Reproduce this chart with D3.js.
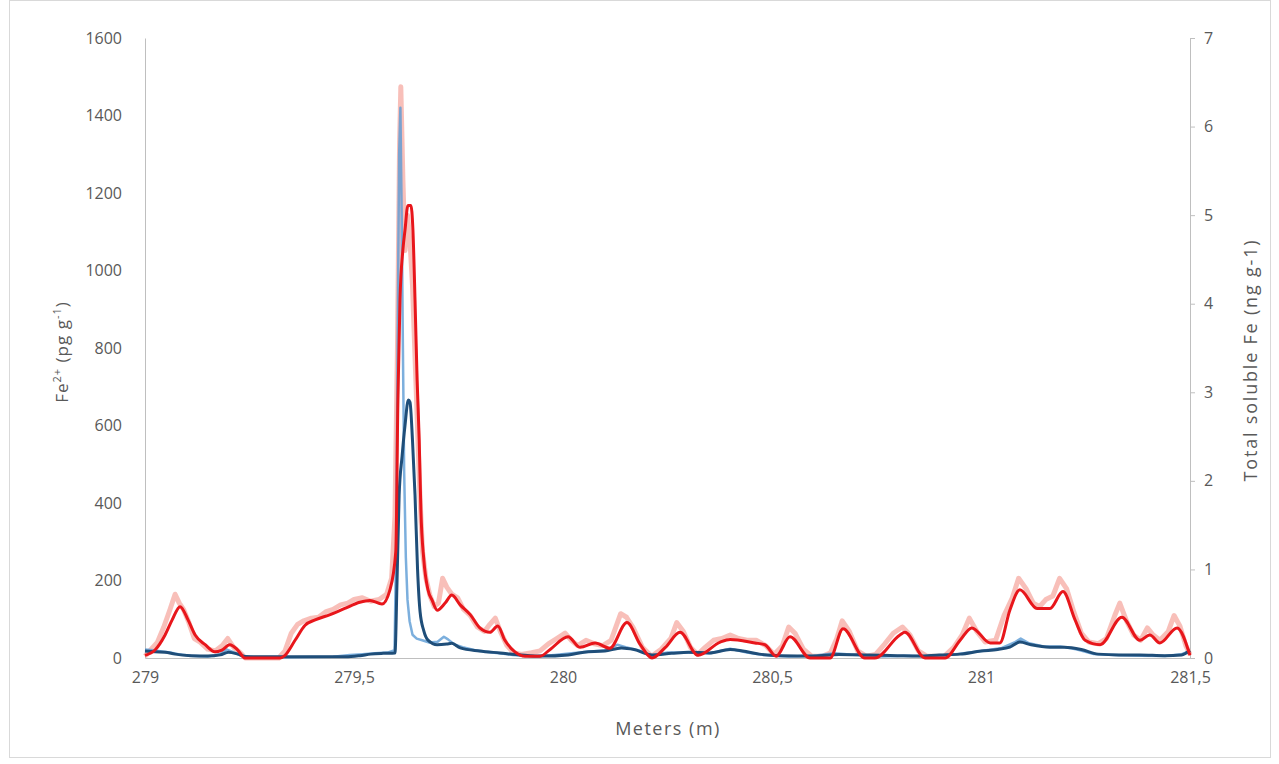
<!DOCTYPE html>
<html>
<head>
<meta charset="utf-8">
<script src="https://cdn.jsdelivr.net/npm/d3@7"></script>
<style>
  html, body { margin: 0; padding: 0; background: #fff; }
  svg { display: block; }
  .tick text, .axis-title { font-family: "Open Sans", "Noto Sans", sans-serif; fill: #595959; }
</style>
</head>
<body>
<svg id="chart" width="1279" height="764"></svg>
<script>
// Depth (m) and total soluble Fe (ng g-1), smoothed record
const feTotDepth = [279.000,279.024,279.048,279.065,279.084,279.103,279.120,279.144,279.167,279.184,279.203,279.222,279.239,279.323,279.335,279.359,279.383,279.407,279.443,279.478,279.514,279.538,279.567,279.586,279.600,279.605,279.610,279.617,279.622,279.629,279.636,279.641,279.646,279.651,279.656,279.660,279.667,279.677,279.687,279.699,279.718,279.734,279.754,279.778,279.801,279.825,279.844,279.861,279.885,279.909,279.945,279.970,280.012,280.041,280.077,280.112,280.153,280.185,280.213,280.245,280.280,280.323,280.376,280.400,280.459,280.483,280.510,280.543,280.591,280.639,280.670,280.722,280.746,280.806,280.818,280.866,280.914,280.950,280.978,281.022,281.045,281.069,281.093,281.134,281.165,281.196,281.225,281.249,281.285,281.337,281.380,281.404,281.428,281.469,281.500];
const feTotSmooth = [0.03,0.09,0.26,0.43,0.58,0.43,0.26,0.15,0.07,0.09,0.15,0.09,0.00,0.00,0.03,0.20,0.37,0.43,0.49,0.56,0.63,0.65,0.61,0.77,1.20,2.91,4.04,4.61,4.83,5.11,5.11,4.83,4.04,3.14,2.46,1.67,1.11,0.77,0.65,0.54,0.62,0.71,0.60,0.49,0.34,0.29,0.36,0.20,0.07,0.02,0.02,0.10,0.24,0.12,0.17,0.11,0.40,0.15,0.00,0.12,0.29,0.03,0.18,0.21,0.17,0.15,0.02,0.24,0.00,0.00,0.33,0.00,0.00,0.26,0.29,0.00,0.00,0.20,0.34,0.17,0.17,0.54,0.77,0.56,0.56,0.75,0.43,0.20,0.15,0.46,0.20,0.26,0.17,0.34,0.03];

// Depth (m) and total soluble Fe (ng g-1), raw record
const feTotRawDepth = [279.000,279.015,279.030,279.045,279.060,279.072,279.082,279.092,279.105,279.118,279.132,279.150,279.168,279.185,279.198,279.212,279.228,279.240,279.320,279.335,279.350,279.365,279.380,279.398,279.415,279.432,279.450,279.468,279.485,279.500,279.520,279.540,279.560,279.578,279.590,279.598,279.604,279.609,279.612,279.617,279.622,279.628,279.634,279.640,279.646,279.652,279.658,279.664,279.672,279.682,279.692,279.702,279.712,279.722,279.734,279.748,279.762,279.778,279.795,279.812,279.825,279.838,279.850,279.866,279.882,279.900,279.925,279.945,279.965,279.985,280.005,280.020,280.035,280.055,280.075,280.095,280.115,280.138,280.152,280.168,280.190,280.212,280.235,280.258,280.272,280.288,280.305,280.322,280.340,280.360,280.380,280.400,280.420,280.440,280.462,280.485,280.505,280.525,280.540,280.555,280.575,280.595,280.620,280.640,280.655,280.668,280.685,280.705,280.725,280.748,280.770,280.790,280.812,280.830,280.850,280.870,280.912,280.935,280.955,280.972,280.990,281.010,281.035,281.055,281.075,281.090,281.108,281.125,281.140,281.155,281.172,281.188,281.205,281.222,281.240,281.258,281.280,281.300,281.320,281.332,281.348,281.365,281.382,281.398,281.412,281.428,281.448,281.462,281.476,281.490,281.500];
const feTotRaw = [0.02,0.10,0.18,0.35,0.55,0.72,0.62,0.55,0.40,0.22,0.18,0.10,0.08,0.14,0.22,0.12,0.06,0.00,0.00,0.08,0.28,0.38,0.42,0.45,0.46,0.52,0.55,0.60,0.62,0.66,0.68,0.64,0.66,0.72,0.90,1.60,3.50,5.80,6.45,5.40,4.60,5.00,4.70,4.20,3.40,2.60,1.80,1.20,0.90,0.70,0.58,0.62,0.90,0.80,0.72,0.68,0.55,0.48,0.35,0.30,0.38,0.45,0.30,0.14,0.06,0.04,0.06,0.08,0.16,0.22,0.28,0.20,0.14,0.20,0.16,0.14,0.20,0.50,0.46,0.34,0.12,0.02,0.10,0.22,0.40,0.30,0.12,0.04,0.12,0.20,0.22,0.26,0.22,0.20,0.20,0.14,0.04,0.14,0.35,0.28,0.10,0.02,0.02,0.06,0.22,0.42,0.30,0.08,0.02,0.04,0.16,0.28,0.35,0.26,0.08,0.02,0.02,0.12,0.26,0.45,0.30,0.18,0.20,0.48,0.68,0.90,0.78,0.62,0.58,0.66,0.70,0.90,0.78,0.52,0.28,0.18,0.16,0.22,0.48,0.62,0.42,0.26,0.20,0.34,0.26,0.20,0.30,0.48,0.36,0.14,0.04];

// Depth (m) and Fe2+ (pg g-1), smoothed record
const fe2Depth = [279.000,279.024,279.048,279.072,279.110,279.150,279.180,279.200,279.222,279.239,279.300,279.400,279.480,279.514,279.540,279.570,279.598,279.603,279.608,279.615,279.622,279.630,279.634,279.640,279.646,279.652,279.658,279.667,279.677,279.699,279.722,279.734,279.754,279.800,279.850,279.900,279.950,280.012,280.050,280.100,280.140,280.170,280.213,280.260,280.300,280.350,280.400,280.430,280.470,280.520,280.600,280.660,280.720,280.800,280.850,280.900,280.950,281.000,281.040,281.069,281.093,281.120,281.165,281.200,281.240,281.280,281.330,281.380,281.440,281.480,281.500];
const fe2Smooth = [18,16,15,10,6,5,8,15,10,4,3,3,3,6,10,12,13,200,420,520,600,666,660,560,420,230,120,70,46,34,36,38,26,18,13,8,5,8,15,18,26,22,8,12,15,13,22,18,10,6,5,9,8,6,5,8,10,18,22,28,41,34,28,28,22,10,8,8,6,8,20];

// Depth (m) and Fe2+ (pg g-1), raw record
const fe2RawDepth = [279.000,279.020,279.040,279.060,279.080,279.110,279.150,279.180,279.195,279.210,279.230,279.260,279.350,279.450,279.490,279.520,279.550,279.580,279.597,279.601,279.605,279.608,279.611,279.614,279.617,279.620,279.624,279.628,279.633,279.640,279.650,279.665,279.680,279.700,279.715,279.725,279.740,279.760,279.790,279.830,279.880,279.930,279.980,280.020,280.060,280.100,280.130,280.150,280.180,280.213,280.250,280.300,280.350,280.400,280.440,280.480,280.540,280.600,280.650,280.700,280.760,280.830,280.880,280.940,281.000,281.050,281.080,281.095,281.115,281.150,281.190,281.230,281.270,281.320,281.380,281.440,281.480,281.500];
const fe2Raw = [22,20,17,14,10,6,4,10,22,16,6,2,2,3,8,10,12,14,20,300,900,1300,1420,1150,800,480,260,150,95,60,50,45,40,42,55,48,35,28,20,14,8,4,8,12,16,20,34,28,20,6,14,14,12,24,14,8,4,6,12,8,4,6,4,10,18,26,40,50,38,30,30,22,10,8,6,5,10,18];

// Axis ticks
const depthTicks = [279, 279.5, 280, 280.5, 281, 281.5];
const fe2Ticks = [0, 200, 400, 600, 800, 1000, 1200, 1400, 1600];
const feTotTicks = [0, 1, 2, 3, 4, 5, 6, 7];

const svg = d3.select("#chart");
const plot = { left: 145, right: 1190, top: 38, bottom: 658 };

// chart frame
svg.append("rect")
  .attr("x", 9.5).attr("y", 0.5).attr("width", 1261).attr("height", 757)
  .attr("fill", "#fff").attr("stroke", "#d9d9d9");

const x = d3.scaleLinear().domain([279, 281.5]).range([plot.left, plot.right]);
const yL = d3.scaleLinear().domain([0, 1600]).range([plot.bottom, plot.top]);
const yR = d3.scaleLinear().domain([0, 7]).range([plot.bottom, plot.top]);

const zip = (xs, ys) => xs.map((d, i) => [d, ys[i]]);

const lineL = d3.line().x(d => x(d[0])).y(d => yL(d[1])).curve(d3.curveMonotoneX);
const lineR = d3.line().x(d => x(d[0])).y(d => yR(d[1])).curve(d3.curveMonotoneX);
const rawL = d3.line().x(d => x(d[0])).y(d => yL(d[1]));
const rawR = d3.line().x(d => x(d[0])).y(d => yR(d[1]));

const axisColor = "#bfbfbf";

// axes
const gx = svg.append("g").attr("transform", `translate(0,${plot.bottom})`)
  .call(d3.axisBottom(x).tickValues(depthTicks).tickSize(0).tickPadding(14)
    .tickFormat(d => String(d).replace(".", ",")));
const gl = svg.append("g").attr("transform", `translate(${plot.left},0)`)
  .call(d3.axisLeft(yL).tickValues(fe2Ticks).tickSize(0).tickPadding(23).tickFormat(d3.format("d")));
const gr = svg.append("g").attr("transform", `translate(${plot.right},0)`)
  .call(d3.axisRight(yR).tickValues(feTotTicks).tickSize(5).tickSizeOuter(0).tickPadding(9).tickFormat(d3.format("d")));

[gx, gl, gr].forEach(g => {
  g.select(".domain").attr("stroke", axisColor);
  g.selectAll(".tick line").attr("stroke", axisColor);
  g.selectAll(".tick text").attr("font-size", 16).attr("fill", "#595959");
});

// series
const plotG = svg.append("g");
plotG.append("path").datum(zip(feTotRawDepth, feTotRaw))
  .attr("d", rawR).attr("fill", "none")
  .attr("stroke", "#f6aaa2").attr("stroke-opacity", 0.75).attr("stroke-width", 5)
  .attr("stroke-linejoin", "round");
plotG.append("path").datum(zip(fe2RawDepth, fe2Raw))
  .attr("d", rawL).attr("fill", "none")
  .attr("stroke", "#5b9bd5").attr("stroke-opacity", 0.8).attr("stroke-width", 2.5)
  .attr("stroke-linejoin", "round");
plotG.append("path").datum(zip(fe2Depth, fe2Smooth))
  .attr("d", lineL).attr("fill", "none")
  .attr("stroke", "#1f4e79").attr("stroke-width", 3)
  .attr("stroke-linejoin", "round");
plotG.append("path").datum(zip(feTotDepth, feTotSmooth))
  .attr("d", lineR).attr("fill", "none")
  .attr("stroke", "#e8161b").attr("stroke-width", 3)
  .attr("stroke-linejoin", "round");

// axis titles
svg.append("text").attr("class", "axis-title")
  .attr("x", 668).attr("y", 735).attr("text-anchor", "middle")
  .attr("font-size", 18).attr("letter-spacing", 1.5)
  .text("Meters (m)");

const lt = svg.append("text").attr("class", "axis-title")
  .attr("transform", "translate(68,352) rotate(-90)")
  .attr("text-anchor", "middle").attr("font-size", 17).attr("letter-spacing", 1);
lt.append("tspan").text("Fe");
lt.append("tspan").attr("baseline-shift", "super").attr("font-size", 11).text("2+");
lt.append("tspan").text(" (pg g");
lt.append("tspan").attr("baseline-shift", "super").attr("font-size", 11).text("-1");
lt.append("tspan").text(")");

svg.append("text").attr("class", "axis-title")
  .attr("transform", "translate(1257,360) rotate(-90)")
  .attr("text-anchor", "middle").attr("font-size", 18).attr("letter-spacing", 1.8)
  .text("Total soluble Fe (ng g-1)");
</script>
</body>
</html>
